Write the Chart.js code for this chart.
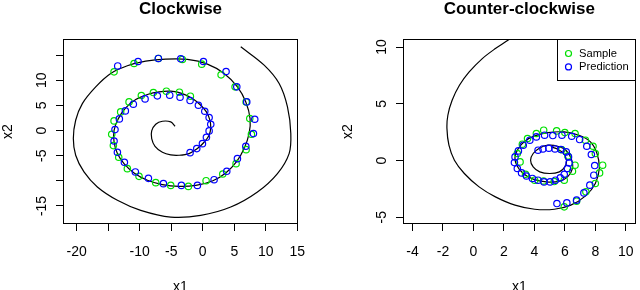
<!DOCTYPE html>
<html>
<head>
<meta charset="utf-8">
<script src="https://cdn.jsdelivr.net/npm/chart.js@4.4.1/dist/chart.umd.min.js"></script>
<style>
  html, body { margin: 0; padding: 0; background: #fff; }
  #wrap { display: flex; width: 640px; height: 290px; }
  canvas { display: block; }
</style>
</head>
<body>
<div id="wrap">
  <canvas id="chart1" width="320" height="290"></canvas>
  <canvas id="chart2" width="320" height="290"></canvas>
</div>
<script>
'use strict';

// ---- Clockwise panel ----
var cwLineX = [-4.39, -5.08, -6.40, -7.46, -8.10, -8.10, -7.57, -6.40, -5.08, -3.76, -2.17, -0.85, 0.21, 1.01, 1.27, 1.11, 0.58, -0.32, -1.64, -3.23,
  -5.08, -6.93, -8.78, -10.63, -12.22, -13.39, -14.07, -14.07, -13.54, -12.49, -10.90, -8.78, -6.40, -3.76, -1.11, 1.53, 3.65, 5.40, 6.56, 7.35,
  7.51, 6.83, 5.50, 3.39, 0.74, -2.43, -5.87, -9.05, -11.96, -14.60, -16.98, -19.10, -20.16, -20.53, -20.16, -18.84, -16.72, -13.54, -9.84, -5.08,
  -0.32, 4.44, 8.68, 11.85, 13.70, 13.97, 13.44, 12.12, 9.74, 6.03];
var cwLineY = [0.86, 1.72, 1.85, 1.25, -0.07, -1.59, -3.12, -4.31, -4.84, -4.91, -4.58, -3.58, -2.32, -0.93, 0.72, 2.18, 3.71, 5.04, 6.37, 7.36,
  7.83, 7.70, 7.17, 6.17, 4.51, 2.38, 0.06, -2.26, -4.58, -6.57, -8.43, -9.89, -10.75, -11.09, -10.90, -10.02, -8.43, -6.11, -3.58, -0.60,
  2.38, 5.70, 8.69, 11.35, 13.21, 14.14, 14.20, 13.80, 12.88, 11.35, 8.69, 5.37, 2.05, -1.59, -4.91, -8.23, -11.22, -13.87, -15.87, -17.20,
  -16.87, -15.21, -12.22, -8.56, -4.58, -0.60, 4.71, 9.36, 13.01, 16.66];

var cwSampleX = [-14.07, -10.90, -7.04, -3.23, -0.16, 2.91, 5.13, 6.88, 7.46, 7.72, 6.88, 5.29, 3.17, 0.53, -2.28, -5.08, -7.46, -10.11, -11.96, -13.33,
  -14.18, -14.44, -14.07, -13.02, -11.69, -9.74, -7.83, -5.77, -3.70, -1.96];
var cwSampleY = [11.68, 13.34, 14.34, 14.14, 13.21, 11.08, 8.69, 5.70, 2.38, -0.74, -3.79, -6.58, -8.64, -9.97, -11.10, -10.90, -10.36, -9.10, -7.57, -5.31,
  -2.99, -0.74, 1.92, 3.71, 5.70, 6.97, 7.56, 7.83, 7.63, 6.83];

var cwPredX = [-2.01, -0.95, -0.05, 0.58, 1.01, 1.27, 1.01, 0.32, -0.69, -2.01, -3.60, -5.24, -7.20, -9.15, -11.01, -12.28, -13.23, -13.92, -14.07, -13.54,
  -12.43, -10.69, -8.62, -6.24, -3.39, -0.85, 1.80, 3.81, 5.50, 6.83, 8.04, 8.25, 6.98, 5.40, 3.70, 0.11, -3.49, -7.04, -10.26, -13.49];
var cwPredY = [-4.39, -3.59, -2.60, -1.33, -0.07, 1.25, 2.58, 3.84, 5.04, 5.97, 6.63, 7.03, 6.90, 6.30, 5.24, 3.91, 2.32, 0.19, -2.07, -4.32,
  -6.31, -8.23, -9.50, -10.56, -10.90, -10.90, -9.77, -8.10, -5.58, -3.12, -0.60, 2.25, 5.70, 8.69, 11.75, 13.74, 14.27, 14.34, 13.74, 12.85];

var cwTicksX = [-20, -15, -10, -5, 0, 5, 10, 15];
var cwTicksY = [-15, -10, -5, 0, 5, 10, 15];
var cwHideX = [-15];
var cwHideY = [-10, 15];

// ---- Counter-clockwise panel ----
var ccwLineX = [2.95, 2.26, 1.44, 0.58, -0.28, -0.92, -1.40, -1.68, -1.74, -1.61, -1.25, -0.60, 0.37, 1.44, 2.73, 4.02, 5.31, 6.39, 7.36, 8.00,
  8.26, 8.11, 7.68, 6.93, 5.96, 4.89, 4.02, 3.37, 2.94, 2.73, 2.84, 3.27, 3.92, 4.78, 5.64, 6.18, 6.50, 6.43, 6.07, 5.53,
  4.89, 4.35, 3.92, 3.75, 3.92, 4.35, 5.00, 5.64, 6.00, 6.11, 5.92, 5.53, 5.10];
var ccwLineY = [11.32, 10.59, 9.86, 8.98, 7.80, 6.63, 5.31, 3.99, 2.81, 1.35, 0.03, -1.14, -2.32, -3.20, -3.93, -4.29, -4.29, -3.93, -3.11, -2.02,
  -0.70, 0.62, 1.64, 2.23, 2.52, 2.46, 2.17, 1.70, 1.05, 0.32, -0.41, -1.14, -1.64, -1.88, -1.82, -1.44, -0.70, 0.12, 0.91, 1.26,
  1.35, 1.11, 0.62, 0.03, -0.56, -1.00, -1.14, -1.00, -0.56, 0.03, 0.62, 1.00, 1.20];

var ccwSampleX = [5.96, 6.77, 7.38, 8.00, 8.28, 8.48, 8.00, 7.85, 7.35, 6.67, 6.00, 5.46, 4.61, 4.13, 3.55, 3.21, 2.88, 3.06, 3.42, 4.02,
  4.60, 5.30, 5.96, 6.50, 6.67, 6.20, 5.80];
var ccwSampleY = [-4.08, -3.58, -2.76, -2.02, -1.09, -0.41, 0.62, 1.26, 1.79, 2.38, 2.46, 2.61, 2.67, 2.38, 1.94, 1.44, 0.62, -0.12, -1.21, -1.73,
  -1.80, -1.85, -1.73, -0.94, -0.41, 0.40, 0.95];

var ccwPredX = [5.48, 6.13, 6.77, 7.25, 7.64, 7.90, 7.96, 7.74, 7.44, 6.97, 6.45, 5.81, 5.21, 4.67, 4.13, 3.70, 3.27, 2.95, 2.73, 2.69,
  2.88, 3.16, 3.48, 3.87, 4.24, 4.63, 5.03, 5.38, 5.70, 5.96, 6.17, 6.28, 6.24, 6.09, 5.74, 5.35, 4.95, 4.56, 4.24];
var ccwPredY = [-3.79, -3.73, -3.49, -2.85, -2.17, -1.29, -0.44, 0.53, 1.26, 1.85, 2.14, 2.23, 2.20, 2.23, 2.08, 1.79, 1.35, 0.85, 0.32, -0.18,
  -0.70, -1.09, -1.36, -1.58, -1.73, -1.88, -1.88, -1.73, -1.53, -1.21, -0.70, -0.21, 0.32, 0.76, 0.97, 1.02, 1.08, 1.02, 0.91];

var ccwTicksX = [-4, -2, 0, 2, 4, 6, 8, 10];
var ccwTicksY = [-5, 0, 5, 10];

var legendLabels = ['Sample', 'Prediction'];
var sampleColor = '#00e000';
var predColor = '#0000ff';

var FONT = '"Liberation Sans", Arial, Helvetica, sans-serif';
Chart.defaults.font.family = FONT;
Chart.defaults.color = '#000';

function toPoints(xs, ys) {
  return xs.map(function(x, i) { return {x: x, y: ys[i]}; });
}

// draws the R-style extras: box, title, axis titles, rotated y labels, legend
var rPlot = {
  id: 'rPlot',
  afterDraw: function(chart, args, opts) {
    var ctx = chart.ctx;
    var a = chart.chartArea;
    var ys = chart.scales.y;
    var cx = (a.left + a.right) / 2;
    var cy = (a.top + a.bottom) / 2;

    ctx.save();
    ctx.strokeStyle = '#000';
    ctx.lineWidth = 1;
    var x0 = Math.round(a.left) + 0.5, x1 = Math.round(a.right) - 0.5;
    var y0 = Math.round(a.top) + 0.5, y1 = Math.round(a.bottom) - 0.5;
    ctx.strokeRect(x0, y0, x1 - x0, y1 - y0);

    ctx.fillStyle = '#000';
    ctx.textAlign = 'center';
    ctx.textBaseline = 'alphabetic';
    ctx.font = 'bold 17px ' + FONT;
    ctx.fillText(opts.title, cx, 13.5);

    ctx.font = '14px ' + FONT;
    ctx.fillText('x1', cx, a.bottom + 67.2);

    // y tick labels, rotated like R's las = 0
    ys.ticks.forEach(function(t) {
      if (opts.hideY.indexOf(t.value) >= 0) return;
      ctx.save();
      ctx.translate(a.left - 17.5, ys.getPixelForValue(t.value));
      ctx.rotate(-Math.PI / 2);
      ctx.fillText(String(t.value), 0, 0);
      ctx.restore();
    });

    ctx.save();
    ctx.translate(a.left - 51.3, cy);
    ctx.rotate(-Math.PI / 2);
    ctx.fillText('x2', 0, 0);
    ctx.restore();

    if (opts.legend) {
      var lw = 78, lh = 41;
      var lx = x1 - lw, ly = y0;
      ctx.strokeRect(lx, ly, lw, lh);
      ctx.font = '11.2px ' + FONT;
      ctx.textAlign = 'left';
      ctx.textBaseline = 'middle';
      ctx.lineWidth = 1.2;
      [sampleColor, predColor].forEach(function(col, i) {
        var ry = ly + 14 + i * 13.4;
        ctx.beginPath();
        ctx.strokeStyle = col;
        ctx.arc(lx + 11, ry, 3, 0, Math.PI * 2);
        ctx.stroke();
        ctx.fillText(legendLabels[i], lx + 21.5, ry);
      });
    }
    ctx.restore();
  }
};

function axisOpts(min, max, ticks, hide, size, isX) {
  return {
    type: 'linear',
    min: min,
    max: max,
    afterBuildTicks: function(s) {
      s.ticks = ticks.map(function(v) { return {value: v}; });
    },
    afterFit: function(s) {
      // fixed margins, no extra room for overhanging tick labels
      if (isX) { s.height = size; } else { s.width = size; }
      s.paddingLeft = s.paddingRight = s.paddingTop = s.paddingBottom = 0;
    },
    grid: { display: true, drawOnChartArea: false, drawTicks: true, tickLength: 7, color: '#000', lineWidth: 1 },
    border: { display: false },
    ticks: {
      display: isX,
      autoSkip: false,
      maxRotation: 0,
      minRotation: 0,
      padding: 13,
      color: '#000',
      font: { size: 14, family: FONT },
      callback: function(v) { return hide.indexOf(v) >= 0 ? '' : String(v); }
    }
  };
}

function initChart(id, p) {
  var el = document.getElementById(id);
  return new Chart(el, {
    type: 'scatter',
    data: {
      datasets: [
        { label: legendLabels[1], data: toPoints(p.predX, p.predY), pointRadius: 3.2, pointHoverRadius: 3.2,
          pointBorderWidth: 1.2, borderColor: predColor, pointBackgroundColor: 'rgba(0,0,0,0)', order: 1 },
        { label: legendLabels[0], data: toPoints(p.sampleX, p.sampleY), pointRadius: 3.2, pointHoverRadius: 3.2,
          pointBorderWidth: 1.2, borderColor: sampleColor, pointBackgroundColor: 'rgba(0,0,0,0)', order: 2 },
        { label: 'path', data: toPoints(p.lineX, p.lineY), showLine: true, pointRadius: 0, borderColor: '#000',
          borderWidth: 1.2, tension: 0.35, order: 3 }
      ]
    },
    options: {
      responsive: false,
      animation: false,
      events: [],
      layout: { padding: { left: 0, top: p.area.top, right: 320 - p.area.right, bottom: 0 } },
      plugins: {
        legend: { display: false },
        tooltip: { enabled: false },
        title: { display: false },
        rPlot: { title: p.title, hideY: p.hideY, legend: p.legend }
      },
      scales: {
        x: axisOpts(p.xMin, p.xMax, p.ticksX, p.hideX, 290 - p.area.bottom, true),
        y: axisOpts(p.yMin, p.yMax, p.ticksY, p.hideY, p.area.left, false)
      }
    },
    plugins: [rPlot]
  });
}

initChart('chart1', {
  title: 'Clockwise',
  lineX: cwLineX, lineY: cwLineY,
  sampleX: cwSampleX, sampleY: cwSampleY,
  predX: cwPredX, predY: cwPredY,
  ticksX: cwTicksX, ticksY: cwTicksY, hideX: cwHideX, hideY: cwHideY,
  xMin: -22.17, xMax: 15.11, yMin: -18.58, yMax: 18.21,
  area: { left: 63, top: 39, right: 298, bottom: 224 },
  legend: false
});

initChart('chart2', {
  title: 'Counter-clockwise',
  lineX: ccwLineX, lineY: ccwLineY,
  sampleX: ccwSampleX, sampleY: ccwSampleY,
  predX: ccwPredX, predY: ccwPredY,
  ticksX: ccwTicksX, ticksY: ccwTicksY, hideX: [], hideY: [],
  xMin: -4.625, xMax: 10.644, yMin: -5.59, yMax: 10.705,
  area: { left: 83, top: 39, right: 320, bottom: 224 },
  legend: true
});
</script>
</body>
</html>
